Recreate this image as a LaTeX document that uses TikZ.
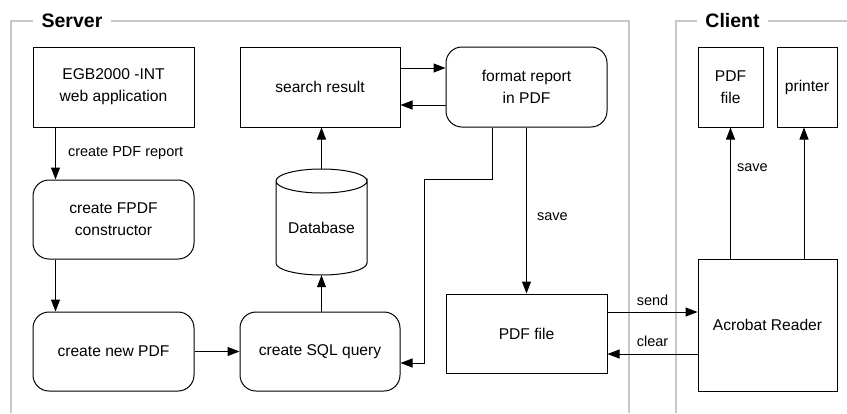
\documentclass[tikz,border=0pt]{standalone}
\usepackage{fontspec}
\setmainfont{Liberation Sans}
\usetikzlibrary{arrows.meta}
\begin{document}
\begin{tikzpicture}[x=1pt,y=-1pt,
  box/.style={draw, line width=1pt, inner sep=0pt, align=center, font=\fontsize{15.6}{22}\selectfont},
  rbox/.style={box, rounded corners=16pt},
  lbl/.style={font=\fontsize{14.5}{17}\selectfont, inner sep=0pt},
  conn/.style={line width=1pt, -{Triangle[length=12pt,width=9pt]}},
  frame/.style={draw=black!22, line width=1.3pt},
  ttl/.style={font=\bfseries\fontsize{19.5}{22}\selectfont, fill=white, inner xsep=8.5pt, inner ysep=2pt}]
\useasboundingbox[fill=white] (0,0) rectangle (847,413);
% frames
\draw[frame] (11,413) -- (11,21) -- (629,21) -- (629,413);
\draw[frame] (676,413) -- (676,21) -- (847,21);
\node[ttl] (srvt) at (72,21) {Server};
\node[ttl] (clt) at (732.5,21) {Client};
% server nodes
\node[box, minimum width=161pt, minimum height=80pt] (egb) at (113.5,87) {EGB2000 -INT\\web application};
\node[box, minimum width=160pt, minimum height=80pt] (sr) at (320,87) {search result};
\node[rbox, minimum width=161pt, minimum height=80pt] (fr) at (526.5,87) {format report\\in PDF};
\node[rbox, minimum width=161pt, minimum height=79pt] (fpdf) at (113.5,219.5) {create FPDF\\constructor};
\node[rbox, minimum width=161pt, minimum height=79pt] (npdf) at (113.5,351.5) {create new PDF};
\node[rbox, minimum width=160pt, minimum height=79pt] (sql) at (320,351.5) {create SQL query};
\node[box, minimum width=161pt, minimum height=79pt] (pdf) at (526.5,333.5) {PDF file};
% database cylinder
\node[inner sep=0pt, minimum width=91pt, minimum height=106pt] (db) at (321.5,222) {};
\draw[line width=1pt] (276,181) -- (276,263) arc[start angle=180, end angle=360, x radius=45.5, y radius=-12] -- (367,181)
  arc[start angle=0, end angle=360, x radius=45.5, y radius=12];
\node[font=\fontsize{15.6}{22}\selectfont, inner sep=0pt] (dbt) at (321.5,228) {Database};
% client nodes
\node[box, minimum width=139pt, minimum height=132pt] (acro) at (767.5,325) {Acrobat Reader};
\node[box, minimum width=65pt, minimum height=80pt] (cpdf) at (730.5,87) {PDF\\file};
\node[box, minimum width=60pt, minimum height=80pt] (prn) at (807,87) {printer};
% connectors
\draw[conn] ([xshift=23pt]egb.south west) -- node[lbl, anchor=west, xshift=12pt] (l1) {create PDF report} ([xshift=23pt]fpdf.north west);
\draw[conn] ([xshift=23pt]fpdf.south west) -- ([xshift=23pt]npdf.north west);
\draw[conn] (npdf.east) -- (sql.west);
\draw[conn] (sql.north -| db.south) -- (db.south);
\draw[conn] (db.north) -- (sr.south -| db.north);
\draw[conn] ([yshift=19pt]sr.east) -- ([yshift=19pt]sr.east -| fr.west);
\draw[conn] ([yshift=-18pt]sr.east -| fr.west) -- ([yshift=-18pt]sr.east);
\coordinate (bend) at (424,179);
\draw[conn] ([xshift=-34.5pt]fr.south) |- (bend) |- ([yshift=-11.5pt]sql.east);
\draw[conn] (fr.south) -- node[lbl, anchor=west, xshift=10pt, pos=0.54] (l2) {save} (pdf.north);
\draw[conn] ([yshift=21.5pt]pdf.east) -- node[lbl, above=6pt] (l3) {send} ([yshift=21.5pt]pdf.east -| acro.west);
\draw[conn] ([yshift=-20.5pt]pdf.east -| acro.west) -- node[lbl, above=7pt] (l4) {clear} ([yshift=-20.5pt]pdf.east);
\draw[conn] (acro.north -| cpdf.south) -- node[lbl, anchor=west, xshift=6pt, pos=0.69] (l5) {save} (cpdf.south);
\draw[conn] (acro.north -| 804,0) -- ([xshift=-3pt]prn.south);
\end{tikzpicture}
\end{document}
